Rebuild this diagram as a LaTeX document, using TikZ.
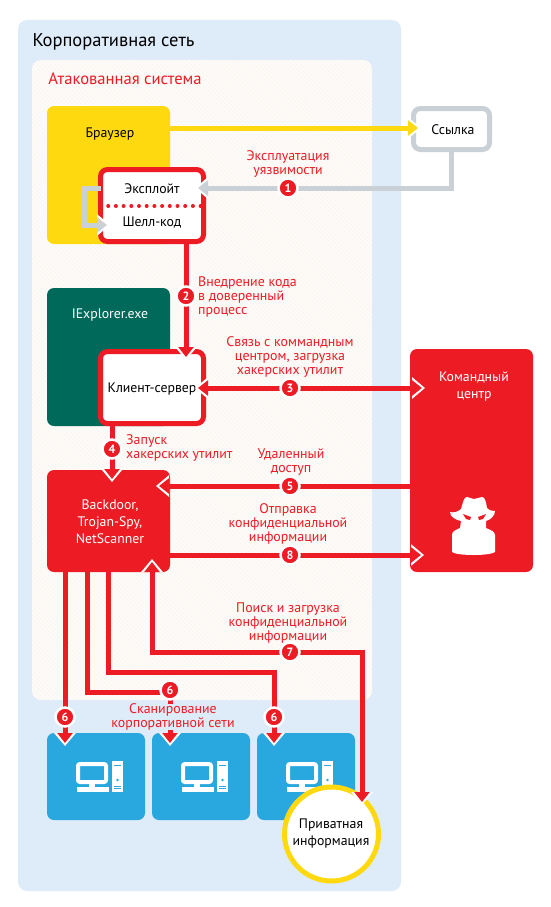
\documentclass[tikz,border=0pt]{standalone}
\usepackage{fontspec}
\setmainfont{PT Sans}
\usetikzlibrary{arrows.meta,patterns.meta}
\definecolor{netblue}{HTML}{DEEBF8}
\definecolor{sysbg}{HTML}{FBF7F2}
\definecolor{attackred}{HTML}{ED1C24}
\definecolor{browseryellow}{HTML}{FFD90F}
\definecolor{iexgreen}{HTML}{00695A}
\definecolor{hostblue}{HTML}{29A8E0}
\definecolor{linkgrey}{HTML}{C9D0D6}
\tikzset{
  redtip/.tip={Triangle[width=15pt,length=10pt]},
  halotip/.tip={Triangle[width=21pt,length=13pt]},
  flow/.style={draw=attackred,line width=5pt,-redtip,
    preaction={draw=white,-halotip,shorten >=-3pt}},
  flowboth/.style={draw=attackred,line width=5pt,redtip-redtip,
    preaction={draw=white,halotip-halotip,shorten >=-3pt,shorten <=-3pt}},
  greyflow/.style={flow,draw=linkgrey},
  yellowflow/.style={flow,draw=browseryellow},
  plainbox/.style={rectangle,rounded corners=7pt,inner sep=0pt,outer sep=0pt,anchor=north west},
  framebox/.style={plainbox,draw=attackred,fill=white,line width=5pt},
  stepdot/.style={circle,fill=attackred,draw=white,line width=2.5pt,text=white,
    minimum size=19pt,inner sep=0pt,font=\fontsize{12}{12}\selectfont\bfseries},
  redlabel/.style={text=attackred,align=center,inner sep=0pt,
    font=\fontsize{13.9}{14}\selectfont},
  boxlabel/.style={align=center,inner sep=0pt,font=\fontsize{13.8}{17}\selectfont}
}
\begin{document}
\begin{tikzpicture}[x=1pt,y=-1pt]

  \useasboundingbox (0,0) rectangle (550,907);

  \node[plainbox,fill=netblue,rounded corners=9pt,minimum width=383pt,minimum height=871pt] (corpnet) at (18,20) {};
  \node[plainbox,rounded corners=9pt,minimum width=340pt,minimum height=640pt,
    preaction={fill=sysbg},pattern={Lines[angle=-45,distance=3pt,line width=0.8pt]},pattern color=white] (attacked) at (32,60) {};
  \node[inner sep=0pt,font=\fontsize{18.5}{18.5}\selectfont] (corptitle) at (113.5,41.5) {Корпоративная сеть};
  \node[redlabel,font=\fontsize{16.6}{16.6}\selectfont] (attackedtitle) at (125,79) {Атакованная система};

  \begin{scope}[every node/.style={plainbox}]
    \node[fill=browseryellow,minimum width=123pt,minimum height=138pt] (browser) at (47,106) {};
    \node[fill=iexgreen,minimum width=123pt,minimum height=138pt] (iexplorer) at (47,288) {};
    \node[fill=attackred,minimum width=123pt,minimum height=102pt] (backdoor) at (47,470) {};
    \node[fill=attackred,minimum width=123pt,minimum height=223pt] (command) at (410,349) {};
    \node[fill=hostblue,minimum width=98pt,minimum height=87pt] (hosta) at (47,733) {};
    \node[fill=hostblue,minimum width=98pt,minimum height=87pt] (hostb) at (152,733) {};
    \node[fill=hostblue,minimum width=98pt,minimum height=87pt] (hostc) at (257,733) {};
  \end{scope}

  \begin{scope}[every node/.style={framebox,minimum width=103pt}]
    \node[minimum height=72pt] (exploit) at (100.5,169.5) {};
    \node[minimum height=72pt] (client) at (100.5,351.5) {};
  \end{scope}

  \node[framebox,draw=linkgrey,minimum width=76pt,minimum height=41pt] (link) at (413.5,108.5) {};
  \draw[attackred,line width=4pt,line cap=round,dash pattern=on 0pt off 7.7pt] (exploit.west |- 0,206) -- (exploit.east |- 0,206);

  \foreach \hostname/\hx in {hosta/47,hostb/152,hostc/257} {
    \begin{scope}[shift={(\hx,733)}]
      \draw[white,line width=4pt,rounded corners=2pt] (31,31) rectangle (59,49);
      \fill[white] (42,51) rectangle (48,55);
      \fill[white] (30,54) rectangle (62,59);
      \fill[white] (65,28) rectangle (76,59);
      \fill[hostblue] (67,31.5) rectangle (74,33);
      \fill[hostblue] (70.5,47) circle (1.3pt);
      \fill[hostblue] (67,52.5) rectangle (74,53.5);
      \fill[hostblue] (67,55) rectangle (74,56);
    \end{scope}
  }

  \node[circle,draw=browseryellow,fill=white,line width=5pt,minimum size=94pt,inner sep=0pt] (private) at (331.5,834) {};

  \begin{scope}[every node/.style={boxlabel}]
    \node (browsertext) at (110,134) {Браузер};
    \node (exploittext) at (152,189) {Эксплойт};
    \node (shelltext) at (152,223) {Шелл-код};
    \node[text=white] (iexplorertext) at (110,315.5) {IExplorer.exe};
    \node (clienttext) at (152,389) {Клиент-сервер};
    \node (linktext) at (453,130) {Ссылка};
    \node[text=white] (backdoortext) at (110,522) {Backdoor,\\Trojan-Spy,\\NetScanner};
    \node[text=white] (commandtext) at (474,386.5) {Командный\\центр};
    \node (privatetext) at (331,834) {Приватная\\информация};
  \end{scope}

  \coordinate (tiplink) at (418,128);
  \coordinate (tipone) at (198,188);
  \coordinate (tipshell) at (107,225);
  \coordinate (tiptwo) at (186,357);
  \coordinate (tipclient) at (198,388);
  \coordinate (tipcommand) at (422,388);
  \coordinate (tipfour) at (112,479);
  \coordinate (tipfive) at (159,486);
  \coordinate (tipeight) at (421,555);
  \coordinate (tipa) at (65,743);
  \coordinate (tipb) at (170,743);
  \coordinate (tipc) at (274,743);
  \coordinate (tipback) at (152,562);
  \coordinate (tipprivate) at (362,802);

  \draw[yellowflow] (browser.east |- tiplink) -- (tiplink);
  \draw[greyflow] (link.south) |- (tipone);
  \draw[greyflow] (exploit.west |- tipone) -- ++(-16,0) |- (tipshell);
  \draw[flow] (tiptwo |- exploit.south) -- (tiptwo);
  \draw[flowboth] (tipclient) -- (tipcommand);
  \draw[flow] (tipfour |- client.south) -- (tipfour);
  \draw[flow] (command.west |- tipfive) -- (tipfive);
  \draw[flow] (backdoor.east |- tipeight) -- (tipeight);
  \draw[flow] (tipa |- backdoor.south) -- (tipa);
  \draw[flow] ([xshift=40pt]backdoor.south west) |- (170,692) -- (tipb);
  \draw[flow] ([xshift=61pt]backdoor.south west) |- (tipc |- 0,672) -- (tipc);
  \draw[flowboth] (tipback) |- (tipprivate |- 0,652) -- (tipprivate);

  \begin{scope}[every node/.style={redlabel}]
    \node (labelone) at (288,164) {Эксплуатация\\уязвимости};
    \node[align=left,anchor=west] (labeltwo) at (198,297) {Внедрение кода\\в доверенный\\процесс};
    \node (labelthree) at (290,356.5) {Связь с коммандным\\центром, загрузка\\хакерских утилит};
    \node[align=left,anchor=west] (labelfour) at (126,448) {Запуск\\хакерских утилит};
    \node (labelfive) at (291,462) {Удаленный\\доступ};
    \node (labeleight) at (288,524) {Отправка\\конфиденциальной\\информации};
    \node (labelseven) at (288,623) {Поиск и загрузка\\конфиденциальной\\информации};
    \node[fill=netblue] (labelsix) at (173,717) {Сканирование\\корпоративной сети};
  \end{scope}

  \begin{scope}[every node/.style={stepdot}]
    \node (stepone) at (288,188) {1};
    \node (steptwo) at (186,296) {2};
    \node (stepthree) at (290,388) {3};
    \node (stepfour) at (112,449) {4};
    \node (stepfive) at (290,486) {5};
    \node (stepsixa) at (65,717) {6};
    \node (stepsixb) at (170,690) {6};
    \node (stepsixc) at (274,717) {6};
    \node (stepseven) at (290,652) {7};
    \node (stepeight) at (290,555) {8};
  \end{scope}

  \fill[white] (452,552) -- (452,535) .. controls (452,531) and (456,530) .. (460,528)
    -- (461,521) .. controls (456,520) and (450,517) .. (450,512)
    .. controls (453,513) and (458,512) .. (461,509)
    .. controls (463,502) and (464,497) .. (467,497)
    .. controls (470,497) and (471,499) .. (474,499)
    .. controls (477,499) and (479,497) .. (482,497)
    .. controls (485,497) and (486,502) .. (487,508)
    .. controls (490,511) and (493,511) .. (495,511)
    .. controls (495,516) and (490,520) .. (486,521)
    -- (486,528) .. controls (490,530) and (495,531) .. (495,535) -- (495,552)
    .. controls (490,556) and (457,556) .. (452,552) -- cycle;
  \fill[attackred] (463,514) -- (471,517) -- (470,520) -- (466,519) -- cycle;
  \fill[attackred] (486,514) -- (478,517) -- (479,520) -- (483,519) -- cycle;

\end{tikzpicture}
\end{document}
